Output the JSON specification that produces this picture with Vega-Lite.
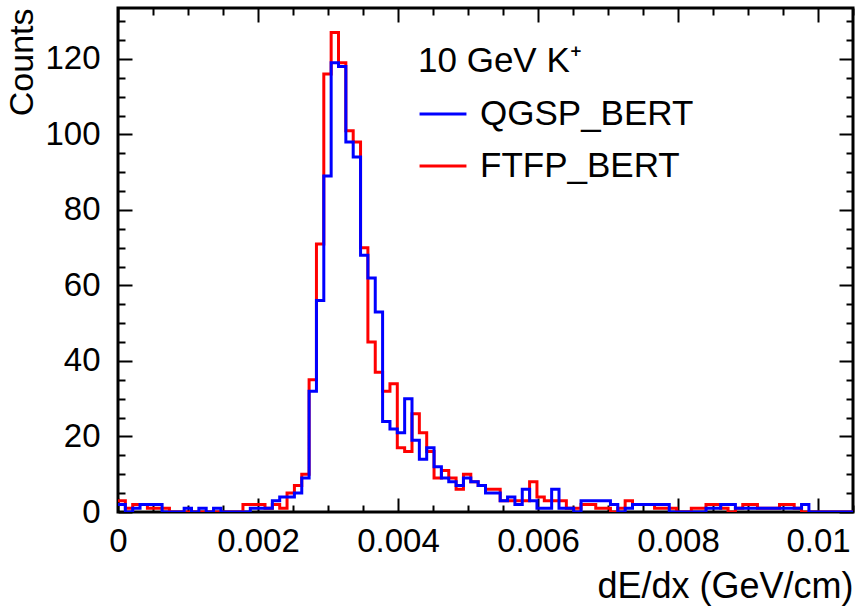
{
  "$schema": "https://vega.github.io/schema/vega-lite/v6.json",
  "width": 735,
  "height": 504,
  "autosize": {"type": "none"},
  "padding": {"left": 118, "top": 8, "right": 4, "bottom": 97},
  "background": "white",
  "config": {
    "font": "Liberation Sans",
    "view": {"stroke": "black", "strokeWidth": 3},
    "axis": {"domain": false, "grid": false, "labelFont": "Liberation Sans", "labelFontSize": 33, "labelColor": "black", "titleFont": "Liberation Sans", "titleFontSize": 34, "titleFontWeight": "normal", "titleColor": "black", "tickColor": "black", "tickWidth": 2},
    "legend": {"labelFont": "Liberation Sans", "titleFont": "Liberation Sans"}
  },
  "data": {"values": [
    {"x": 0, "QGSP_BERT": 2, "FTFP_BERT": 3},
    {"x": 0.000105, "QGSP_BERT": 0, "FTFP_BERT": 1},
    {"x": 0.00021, "QGSP_BERT": 1, "FTFP_BERT": 2},
    {"x": 0.000315, "QGSP_BERT": 2, "FTFP_BERT": 2},
    {"x": 0.00042, "QGSP_BERT": 2, "FTFP_BERT": 1},
    {"x": 0.000525, "QGSP_BERT": 2, "FTFP_BERT": 1},
    {"x": 0.00063, "QGSP_BERT": 0, "FTFP_BERT": 1},
    {"x": 0.000735, "QGSP_BERT": 0, "FTFP_BERT": 0},
    {"x": 0.00084, "QGSP_BERT": 0, "FTFP_BERT": 0},
    {"x": 0.000945, "QGSP_BERT": 1, "FTFP_BERT": 0},
    {"x": 0.00105, "QGSP_BERT": 0, "FTFP_BERT": 0},
    {"x": 0.001155, "QGSP_BERT": 1, "FTFP_BERT": 0},
    {"x": 0.00126, "QGSP_BERT": 0, "FTFP_BERT": 0},
    {"x": 0.001365, "QGSP_BERT": 1, "FTFP_BERT": 0},
    {"x": 0.00147, "QGSP_BERT": 0, "FTFP_BERT": 0},
    {"x": 0.001575, "QGSP_BERT": 0, "FTFP_BERT": 0},
    {"x": 0.00168, "QGSP_BERT": 0, "FTFP_BERT": 0},
    {"x": 0.001785, "QGSP_BERT": 0, "FTFP_BERT": 2},
    {"x": 0.00189, "QGSP_BERT": 1, "FTFP_BERT": 2},
    {"x": 0.001995, "QGSP_BERT": 1, "FTFP_BERT": 2},
    {"x": 0.0021, "QGSP_BERT": 1, "FTFP_BERT": 1},
    {"x": 0.002205, "QGSP_BERT": 3, "FTFP_BERT": 2},
    {"x": 0.00231, "QGSP_BERT": 4, "FTFP_BERT": 1},
    {"x": 0.002415, "QGSP_BERT": 4, "FTFP_BERT": 5},
    {"x": 0.00252, "QGSP_BERT": 5, "FTFP_BERT": 7},
    {"x": 0.002625, "QGSP_BERT": 9, "FTFP_BERT": 10},
    {"x": 0.00273, "QGSP_BERT": 32, "FTFP_BERT": 35},
    {"x": 0.002835, "QGSP_BERT": 56, "FTFP_BERT": 71},
    {"x": 0.00294, "QGSP_BERT": 89, "FTFP_BERT": 116},
    {"x": 0.003045, "QGSP_BERT": 119, "FTFP_BERT": 127},
    {"x": 0.00315, "QGSP_BERT": 118, "FTFP_BERT": 119},
    {"x": 0.003255, "QGSP_BERT": 98, "FTFP_BERT": 101},
    {"x": 0.00336, "QGSP_BERT": 94, "FTFP_BERT": 98},
    {"x": 0.003465, "QGSP_BERT": 68, "FTFP_BERT": 70},
    {"x": 0.00357, "QGSP_BERT": 62, "FTFP_BERT": 45},
    {"x": 0.003675, "QGSP_BERT": 53, "FTFP_BERT": 37},
    {"x": 0.00378, "QGSP_BERT": 24, "FTFP_BERT": 32},
    {"x": 0.003885, "QGSP_BERT": 22, "FTFP_BERT": 34},
    {"x": 0.00399, "QGSP_BERT": 21, "FTFP_BERT": 17},
    {"x": 0.004095, "QGSP_BERT": 30, "FTFP_BERT": 16},
    {"x": 0.0042, "QGSP_BERT": 19, "FTFP_BERT": 26},
    {"x": 0.004305, "QGSP_BERT": 14, "FTFP_BERT": 21},
    {"x": 0.00441, "QGSP_BERT": 17, "FTFP_BERT": 16},
    {"x": 0.004515, "QGSP_BERT": 12, "FTFP_BERT": 9},
    {"x": 0.00462, "QGSP_BERT": 9, "FTFP_BERT": 11},
    {"x": 0.004725, "QGSP_BERT": 8, "FTFP_BERT": 9},
    {"x": 0.00483, "QGSP_BERT": 7, "FTFP_BERT": 6},
    {"x": 0.004935, "QGSP_BERT": 9, "FTFP_BERT": 10},
    {"x": 0.00504, "QGSP_BERT": 8, "FTFP_BERT": 8},
    {"x": 0.005145, "QGSP_BERT": 7, "FTFP_BERT": 7},
    {"x": 0.00525, "QGSP_BERT": 5, "FTFP_BERT": 6},
    {"x": 0.005355, "QGSP_BERT": 5, "FTFP_BERT": 6},
    {"x": 0.00546, "QGSP_BERT": 3, "FTFP_BERT": 3},
    {"x": 0.005565, "QGSP_BERT": 4, "FTFP_BERT": 3},
    {"x": 0.00567, "QGSP_BERT": 2, "FTFP_BERT": 3},
    {"x": 0.005775, "QGSP_BERT": 6, "FTFP_BERT": 3},
    {"x": 0.00588, "QGSP_BERT": 3, "FTFP_BERT": 8},
    {"x": 0.005985, "QGSP_BERT": 1, "FTFP_BERT": 4},
    {"x": 0.00609, "QGSP_BERT": 1, "FTFP_BERT": 3},
    {"x": 0.006195, "QGSP_BERT": 6, "FTFP_BERT": 3},
    {"x": 0.0063, "QGSP_BERT": 1, "FTFP_BERT": 3},
    {"x": 0.006405, "QGSP_BERT": 1, "FTFP_BERT": 1},
    {"x": 0.00651, "QGSP_BERT": 0, "FTFP_BERT": 1},
    {"x": 0.006615, "QGSP_BERT": 3, "FTFP_BERT": 2},
    {"x": 0.00672, "QGSP_BERT": 3, "FTFP_BERT": 2},
    {"x": 0.006825, "QGSP_BERT": 3, "FTFP_BERT": 1},
    {"x": 0.00693, "QGSP_BERT": 3, "FTFP_BERT": 1},
    {"x": 0.007035, "QGSP_BERT": 2, "FTFP_BERT": 0},
    {"x": 0.00714, "QGSP_BERT": 0, "FTFP_BERT": 1},
    {"x": 0.007245, "QGSP_BERT": 1, "FTFP_BERT": 3},
    {"x": 0.00735, "QGSP_BERT": 2, "FTFP_BERT": 2},
    {"x": 0.007455, "QGSP_BERT": 2, "FTFP_BERT": 2},
    {"x": 0.00756, "QGSP_BERT": 2, "FTFP_BERT": 2},
    {"x": 0.007665, "QGSP_BERT": 2, "FTFP_BERT": 1},
    {"x": 0.00777, "QGSP_BERT": 2, "FTFP_BERT": 1},
    {"x": 0.007875, "QGSP_BERT": 0, "FTFP_BERT": 1},
    {"x": 0.00798, "QGSP_BERT": 0, "FTFP_BERT": 0},
    {"x": 0.008085, "QGSP_BERT": 0, "FTFP_BERT": 0},
    {"x": 0.00819, "QGSP_BERT": 0, "FTFP_BERT": 1},
    {"x": 0.008295, "QGSP_BERT": 0, "FTFP_BERT": 1},
    {"x": 0.0084, "QGSP_BERT": 1, "FTFP_BERT": 2},
    {"x": 0.008505, "QGSP_BERT": 1, "FTFP_BERT": 2},
    {"x": 0.00861, "QGSP_BERT": 2, "FTFP_BERT": 1},
    {"x": 0.008715, "QGSP_BERT": 2, "FTFP_BERT": 0},
    {"x": 0.00882, "QGSP_BERT": 1, "FTFP_BERT": 1},
    {"x": 0.008925, "QGSP_BERT": 1, "FTFP_BERT": 2},
    {"x": 0.00903, "QGSP_BERT": 1, "FTFP_BERT": 2},
    {"x": 0.009135, "QGSP_BERT": 1, "FTFP_BERT": 1},
    {"x": 0.00924, "QGSP_BERT": 1, "FTFP_BERT": 1},
    {"x": 0.009345, "QGSP_BERT": 1, "FTFP_BERT": 1},
    {"x": 0.00945, "QGSP_BERT": 1, "FTFP_BERT": 2},
    {"x": 0.009555, "QGSP_BERT": 1, "FTFP_BERT": 2},
    {"x": 0.00966, "QGSP_BERT": 1, "FTFP_BERT": 1},
    {"x": 0.009765, "QGSP_BERT": 2, "FTFP_BERT": 0},
    {"x": 0.00987, "QGSP_BERT": 0, "FTFP_BERT": 0},
    {"x": 0.009975, "QGSP_BERT": 0, "FTFP_BERT": 0},
    {"x": 0.01008, "QGSP_BERT": 0, "FTFP_BERT": 0},
    {"x": 0.010185, "QGSP_BERT": 0, "FTFP_BERT": 0},
    {"x": 0.01029, "QGSP_BERT": 0, "FTFP_BERT": 0},
    {"x": 0.010395, "QGSP_BERT": 0, "FTFP_BERT": 0},
    {"x": 0.0105, "QGSP_BERT": 0, "FTFP_BERT": 0}
  ]},
  "transform": [{"fold": ["QGSP_BERT", "FTFP_BERT"], "as": ["model", "counts"]}],
  "layer": [
    {
      "transform": [{"filter": "datum.model == 'FTFP_BERT'"}],
      "mark": {"type": "line", "interpolate": "step-after", "strokeWidth": 3, "clip": true},
      "encoding": {
        "x": {"field": "x", "type": "quantitative", "scale": {"domain": [0, 0.0105], "nice": false, "zero": false},
          "axis": {"orient": "bottom", "values": [0, 0.002, 0.004, 0.006, 0.008, 0.01], "tickSize": -14, "labelExpr": "format(datum.value, '~g')", "labelPadding": 27, "labelBaseline": "top", "labelFlush": false, "title": "dE/dx (GeV/cm)", "titleFontSize": 36, "titleAnchor": "end", "titlePadding": 11}},
        "y": {"field": "counts", "type": "quantitative", "scale": {"domain": [0, 133.5], "nice": false, "zero": true},
          "axis": {"orient": "left", "values": [0, 20, 40, 60, 80, 100, 120], "tickSize": -14, "labelPadding": 32, "labelFlush": false, "title": "Counts", "titleAnchor": "end", "titlePadding": 5}},
        "color": {"field": "model", "type": "nominal",
          "scale": {"domain": ["QGSP_BERT", "FTFP_BERT"], "range": ["#0000ff", "#ff0000"]},
          "legend": {"orient": "none", "legendX": 300, "legendY": 36, "title": "10 GeV K⁺", "titleFontSize": 35, "titleFontWeight": "normal", "titleColor": "black", "titlePadding": 10, "titleLimit": 0, "labelFontSize": 35, "labelColor": "black", "labelLimit": 0, "symbolType": "stroke", "symbolStrokeWidth": 3, "symbolSize": 2200, "labelOffset": 12, "rowPadding": 9}}
      }
    },
    {
      "transform": [{"filter": "datum.model == 'QGSP_BERT'"}],
      "mark": {"type": "line", "interpolate": "step-after", "strokeWidth": 3, "clip": true},
      "encoding": {
        "x": {"field": "x", "type": "quantitative",
          "axis": {"orient": "bottom", "values": [0.0005, 0.001, 0.0015, 0.0025, 0.003, 0.0035, 0.0045, 0.005, 0.0055, 0.0065, 0.007, 0.0075, 0.0085, 0.009, 0.0095, 0.0105], "tickSize": -7, "labels": false, "title": null}},
        "y": {"field": "counts", "type": "quantitative",
          "axis": {"orient": "left", "values": [5, 10, 15, 25, 30, 35, 45, 50, 55, 65, 70, 75, 85, 90, 95, 105, 110, 115, 125, 130], "tickSize": -7, "labels": false, "title": null}},
        "color": {"field": "model", "type": "nominal"}
      }
    },
    {
      "mark": {"type": "point", "opacity": 0},
      "encoding": {
        "x": {"field": "x", "type": "quantitative",
          "axis": {"orient": "top", "values": [0, 0.002, 0.004, 0.006, 0.008, 0.01], "tickSize": -14, "labels": false, "title": null}},
        "y": {"field": "counts", "type": "quantitative",
          "axis": {"orient": "right", "values": [0, 20, 40, 60, 80, 100, 120], "tickSize": -14, "labels": false, "title": null}}
      }
    },
    {
      "mark": {"type": "point", "opacity": 0},
      "encoding": {
        "x": {"field": "x", "type": "quantitative",
          "axis": {"orient": "top", "values": [0.0005, 0.001, 0.0015, 0.0025, 0.003, 0.0035, 0.0045, 0.005, 0.0055, 0.0065, 0.007, 0.0075, 0.0085, 0.009, 0.0095, 0.0105], "tickSize": -7, "labels": false, "title": null}},
        "y": {"field": "counts", "type": "quantitative",
          "axis": {"orient": "right", "values": [5, 10, 15, 25, 30, 35, 45, 50, 55, 65, 70, 75, 85, 90, 95, 105, 110, 115, 125, 130], "tickSize": -7, "labels": false, "title": null}}
      }
    }
  ],
  "resolve": {"axis": {"x": "independent", "y": "independent"}}
}
